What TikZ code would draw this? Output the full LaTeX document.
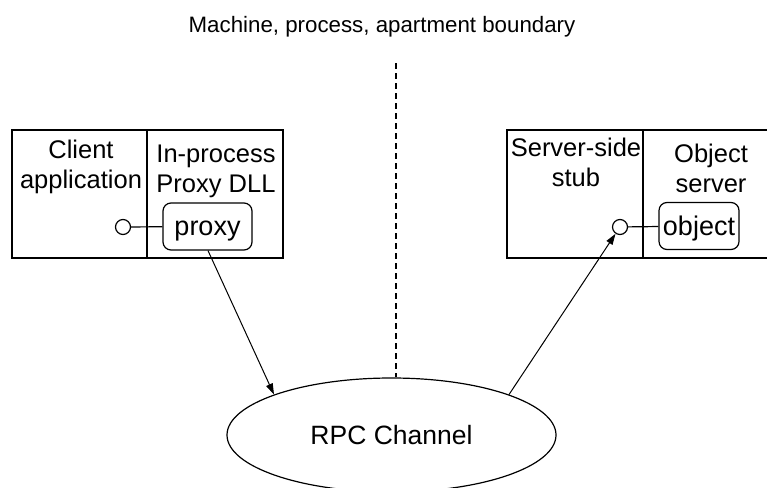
\documentclass[tikz,border=0pt]{standalone}
\usepackage{fontspec}
\setmainfont{Liberation Sans}
\usetikzlibrary{shapes.geometric,arrows.meta}
\begin{document}
\begin{tikzpicture}[x=1pt,y=-1pt, line width=1.2pt,
  box/.style={draw, rectangle, inner sep=0pt, minimum height=128pt},
  comp/.style={draw, fill=white, rounded corners=8pt, inner sep=0pt, minimum width=#1, minimum height=47pt, text height=22pt, text depth=4pt, font=\fontsize{27}{31}\selectfont},
  lbl/.style={align=center, inner sep=0pt, font=\fontsize{25.5}{30}\selectfont},
  iface/.style={draw, circle, fill=white, minimum size=15pt, inner sep=0pt},
  conn/.style={-{Triangle[length=11pt,width=7pt]}, line width=1pt}
]
\path[use as bounding box, clip] (0,0) rectangle (767,487);
\node[box, minimum width=135pt] (client) at (79.5,194) {};
\node[box, minimum width=136pt] (proxydll) at (215,194) {};
\node[box, minimum width=136pt] (stub) at (575,194) {};
\node[box, minimum width=147pt] (objsrv) at (716.5,194) {};
\node[lbl] (clientlbl) at (81,166.7) {Client\\application};
\node[lbl] (dlllbl) at (216,171) {In-process\\Proxy DLL};
\node[lbl] (stublbl) at (576,162.7) {Server-side\\stub};
\node[lbl] (objlbl) at (711,168) {Object\\server};
\node[comp=89pt] (proxy) at (207.5,226.5) {proxy};
\node[comp=80pt] (object) at (699,226) {object};
\node[iface] (lc) at (123,227) {};
\node[iface] (rc) at (620,227) {};
\draw (lc) -- (proxy);
\draw (rc) -- (object);
\node[draw, ellipse, minimum width=329pt, minimum height=114pt, inner sep=0pt, font=\fontsize{26.5}{30}\selectfont] (rpc) at (391.5,435) {RPC Channel};
\coordinate (btop) at (396,63);
\draw[dash pattern=on 6pt off 4pt] (btop) -- (btop |- rpc.north);
\node[anchor=base, font=\fontsize{22.3}{26}\selectfont, inner sep=0pt] (title) at (382,33) {Machine, process, apartment boundary};
\draw[conn] ([xshift=0.5pt]proxy.south) -- (rpc.161);
\draw[conn] (rpc.19) -- (rc);
\end{tikzpicture}
\end{document}
